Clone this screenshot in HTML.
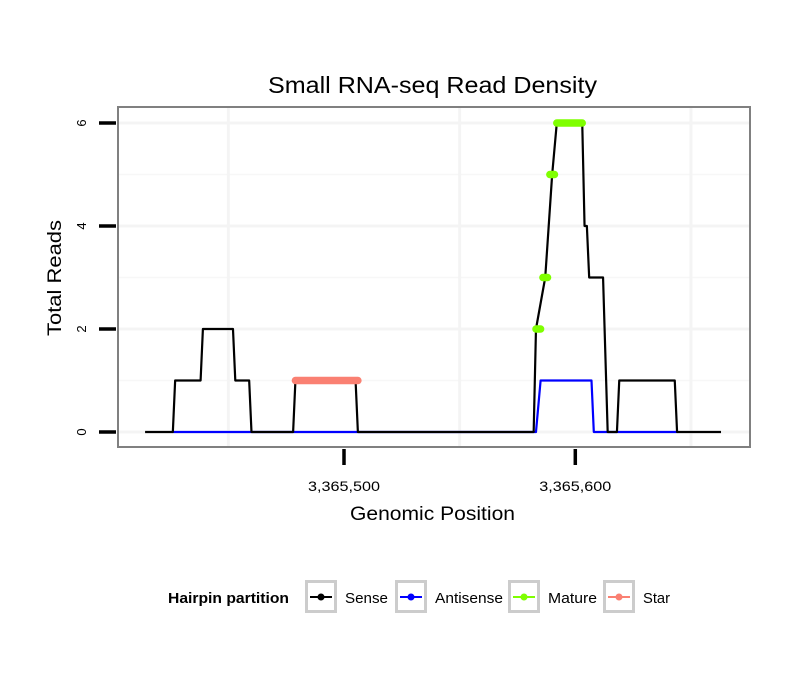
<!DOCTYPE html>
<html><head><meta charset="utf-8"><style>
html,body{margin:0;padding:0;background:#fff;}
svg{display:block;font-family:"Liberation Sans",Arial,sans-serif;}
</style></head><body>
<svg id="chart" width="810" height="690" viewBox="0 0 810 690">
<rect width="810" height="690" fill="#fff"/>
<text x="268" y="93" font-size="23" textLength="329" lengthAdjust="spacingAndGlyphs" fill="#000">Small RNA-seq Read Density</text>
<g id="grid"></g>
<g id="series"></g>
<rect x="118" y="107" width="632" height="340" fill="none" stroke="#808080" stroke-width="2"/>
<g id="axes"></g>
<text x="350" y="520" font-size="19" textLength="165" lengthAdjust="spacingAndGlyphs">Genomic Position</text>
<text transform="translate(61,336) rotate(-90)" font-size="19" textLength="116" lengthAdjust="spacingAndGlyphs">Total Reads</text>
<g>
<text x="168" y="603" font-size="15" font-weight="bold" textLength="121" lengthAdjust="spacingAndGlyphs">Hairpin partition</text>
<g id="legend-items"></g>
</g>
</svg>
<script>
const xTicks=[3365500,3365600];
const xTickLabels=["3,365,500","3,365,600"];
const xGrid=[3365450,3365550,3365650];
const yTicks=[0,2,4,6];
const yMinor=[1,3,5];
const sensePos=[3365414,3365426,3365427,3365438,3365439,3365452,3365453,3365459,3365460,3365478,3365479,3365505,3365506,3365582,3365583,3365587,3365590,3365592,3365603,3365604,3365605,3365606,3365612,3365614,3365618,3365619,3365643,3365644,3365663];
const senseVal=[0,0,1,1,2,2,1,1,0,0,1,1,0,0,2,3,5,6,6,4,4,3,3,0,0,1,1,0,0];
const antiPos=[3365426,3365583,3365585,3365607,3365608,3365644];
const antiVal=[0,0,1,1,0,0];
const matureStart=[3365583,3365586,3365589,3365592];
const matureEnd=[3365585,3365588,3365591,3365603];
const matureVal=[2,3,5,6];
const starStart=[3365479];
const starEnd=[3365506];
const starVal=[1];
const legendLabels=["Sense","Antisense","Mature","Star"];
const legendColors=["#000000","#0000ff","#7fff00","#fa8072"];
const legendWidths=[43,68,49,27];

const NS="http://www.w3.org/2000/svg";
const xs=p=>344+(p-3365500)*2.313;
const ys=v=>432-v*51.5;
function mk(tag,attrs,parent){const e=document.createElementNS(NS,tag);for(const k in attrs)e.setAttribute(k,attrs[k]);parent.appendChild(e);return e;}
const grid=document.getElementById('grid'),series=document.getElementById('series'),axes=document.getElementById('axes');
yMinor.forEach(v=>{const l=mk('line',{x1:119,x2:749,y1:ys(v),y2:ys(v),stroke:'#f7f7f7','stroke-width':1.5},grid);

});
yTicks.forEach(v=>{const l=mk('line',{x1:119,x2:749,y1:ys(v),y2:ys(v),stroke:'#f4f4f4','stroke-width':3},grid);

});
xGrid.forEach(p=>{const l=mk('line',{x1:xs(p),x2:xs(p),y1:108,y2:446,stroke:'#f4f4f4','stroke-width':3},grid);

});
function poly(pos,val,color,name){const pts=pos.map((p,i)=>xs(p)+','+ys(val[i])).join(' ');
const e=mk('polyline',{points:pts,fill:'none',stroke:color,'stroke-width':2.2,'stroke-linejoin':'round'},series);

}
poly(antiPos,antiVal,'#0000ff','antisense-line');
poly(sensePos,senseVal,'#000000','sense-line');
matureStart.forEach((s,i)=>{const e=mk('line',{x1:xs(s),x2:xs(matureEnd[i]),y1:ys(matureVal[i]),y2:ys(matureVal[i]),stroke:'#7fff00','stroke-width':7.5,'stroke-linecap':'round'},series);

});
starStart.forEach((s,i)=>{const e=mk('line',{x1:xs(s),x2:xs(starEnd[i]),y1:ys(starVal[i]),y2:ys(starVal[i]),stroke:'#fa8072','stroke-width':7.5,'stroke-linecap':'round'},series);

});
yTicks.forEach(v=>{const t=mk('line',{x1:99,x2:116,y1:ys(v),y2:ys(v),stroke:'#000','stroke-width':3.5},axes);


const l=mk('text',{transform:'translate(86,'+ys(v)+') rotate(-90)','font-size':13,'text-anchor':'middle'},axes);l.textContent=v;

});
xTicks.forEach((p,i)=>{const t=mk('line',{x1:xs(p),x2:xs(p),y1:449,y2:465,stroke:'#000','stroke-width':3.5},axes);


const l=mk('text',{x:xs(p)-36,y:491,'font-size':14,textLength:72,lengthAdjust:'spacingAndGlyphs'},axes);l.textContent=xTickLabels[i];

});
const li=document.getElementById('legend-items');
const boxX=[305,395,508,603];
legendLabels.forEach((lab,i)=>{const g=mk('g',{},li);


mk('rect',{x:boxX[i]+1.5,y:581.5,width:29,height:30,fill:'#fff',stroke:'#cccccc','stroke-width':3},g);
mk('line',{x1:boxX[i]+5,x2:boxX[i]+27,y1:597,y2:597,stroke:legendColors[i],'stroke-width':2},g);
mk('circle',{cx:boxX[i]+16,cy:597,r:3.5,fill:legendColors[i]},g);
const t=mk('text',{x:boxX[i]+40,y:603,'font-size':15,textLength:legendWidths[i],lengthAdjust:'spacingAndGlyphs'},g);t.textContent=lab;});
</script>
</body></html>
